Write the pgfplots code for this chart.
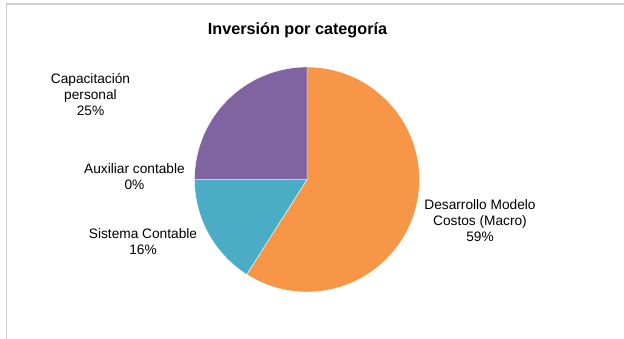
\documentclass[border=0pt]{standalone}
\usepackage{pgfplots}
\pgfplotsset{compat=1.18}
\usepackage{pgfplotstable}
\usepackage{fontspec}
\setmainfont{Liberation Sans}
\definecolor{cOrange}{HTML}{F79646}
\definecolor{cTeal}{HTML}{4BACC6}
\definecolor{cPurple}{HTML}{8064A2}
\definecolor{cFrame}{HTML}{CFCFCF}
\pgfplotstableread[col sep=comma]{
label,value
Desarrollo Modelo Costos (Macro),59
Sistema Contable,16
Auxiliar contable,0
Capacitacion personal,25
}\piedata
\begin{document}
\begin{tikzpicture}
\useasboundingbox (0,0) rectangle (624pt,339pt);
\fill[white] (0,0) rectangle (624pt,339pt);
\draw[cFrame, line width=1.3pt] (6.5pt,0) -- (6.5pt,335pt) -- (624pt,335pt);
\pgfplotstablegetelem{0}{value}\of\piedata \let\vA\pgfplotsretval
\pgfplotstablegetelem{1}{value}\of\piedata \let\vB\pgfplotsretval
\pgfplotstablegetelem{2}{value}\of\piedata \let\vC\pgfplotsretval
\pgfplotstablegetelem{3}{value}\of\piedata \let\vD\pgfplotsretval
\pgfmathsetmacro\eA{90-3.6*\vA}
\pgfmathsetmacro\eB{\eA-3.6*\vB}
\pgfmathsetmacro\eC{\eB-3.6*\vC}
\pgfmathsetmacro\eD{\eC-3.6*\vD}
\begin{axis}[hide axis, scale only axis, width=225pt, height=225pt,
  xmin=-1, xmax=1, ymin=-1, ymax=1, clip=false,
  anchor=origin, at={(307pt,159.5pt)}]
\filldraw[cOrange, draw=white, line width=0.4pt] (axis cs:0,0) -- (axis cs:{cos(90)},{sin(90)}) arc[start angle=90, end angle=\eA, radius=1] -- cycle;
\filldraw[cTeal, draw=white, line width=0.4pt] (axis cs:0,0) -- (axis cs:{cos(\eA)},{sin(\eA)}) arc[start angle=\eA, end angle=\eB, radius=1] -- cycle;
\filldraw[cPurple, draw=white, line width=0.4pt] (axis cs:0,0) -- (axis cs:{cos(\eC)},{sin(\eC)}) arc[start angle=\eC, end angle=\eD, radius=1] -- cycle;
\end{axis}
\begin{scope}[every node/.style={inner sep=0pt, anchor=base, font=\fontsize{13.7}{16.5}\selectfont}]
\node[font=\bfseries\fontsize{16.2}{19}\selectfont] at (297.5pt,304.7pt) {Inversión por categoría};
\node at (90.5pt,255pt) {Capacitación};
\node at (90.5pt,239pt) {personal};
\node at (90.5pt,223pt) {25\%};
\node at (134.5pt,165pt) {Auxiliar contable};
\node at (134.5pt,149pt) {0\%};
\node at (143pt,100.3pt) {Sistema Contable};
\node at (143pt,84.5pt) {16\%};
\node at (480pt,129.7pt) {Desarrollo Modelo};
\node at (480pt,113.3pt) {Costos (Macro)};
\node at (480pt,97.5pt) {59\%};
\end{scope}
\end{tikzpicture}
\end{document}
